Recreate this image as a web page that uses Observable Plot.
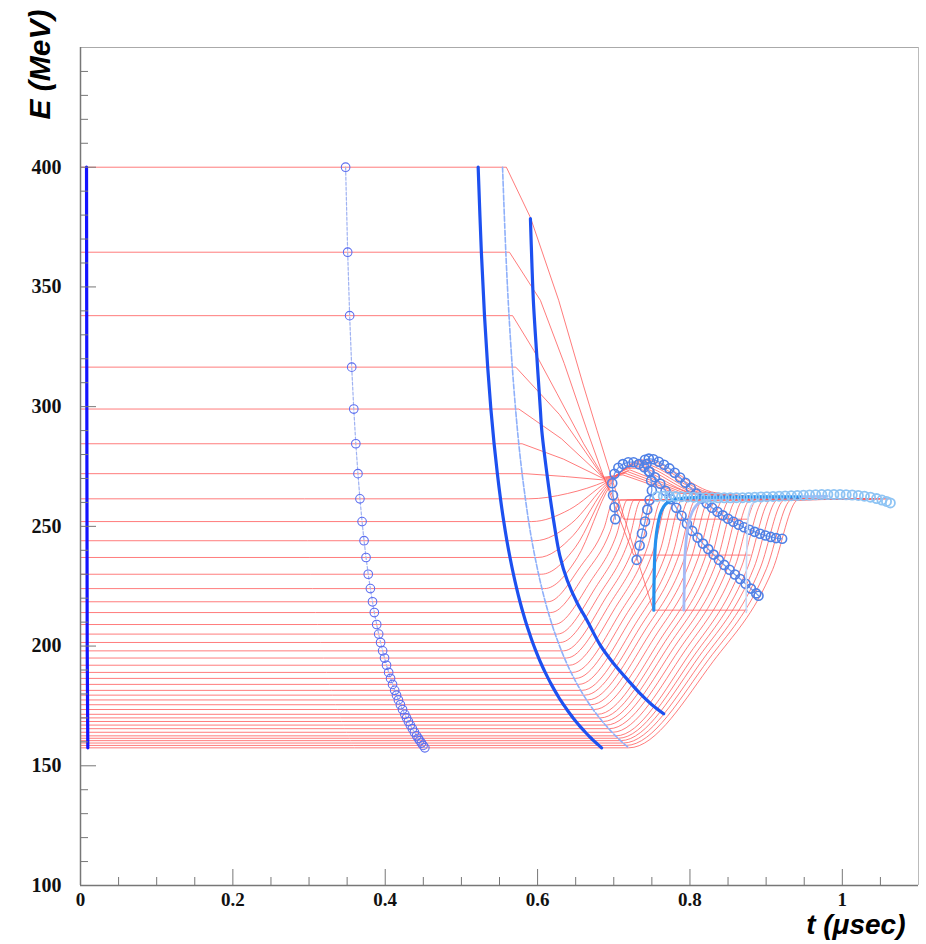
<!DOCTYPE html>
<html><head><meta charset="utf-8">
<script src="https://cdn.jsdelivr.net/npm/d3@7"></script>
<script src="https://cdn.jsdelivr.net/npm/@observablehq/plot@0.6"></script>
<style>body{margin:0;background:#fff;}</style>
</head><body><div id="chart"></div>
<script>
// ---- particle energies (MeV) at production ----
const energies = [400,364.5,338,316.5,299,284.5,272,261.5,252,244,237,230,224,218.5,214,209,205,201.5,198,195,192,189,186.5,184,181.5,179.5,177.5,175.5,173.5,171.5,170,168.5,167,165.5,164,162.5,161.5,160.5,159.5,158.5,157.5];
// time of each particle on the drift snapshot with circles (µs)
const tCircles = [0.3480,0.3507,0.3533,0.3560,0.3587,0.3614,0.3642,0.3668,0.3696,0.3722,0.3748,0.3777,0.3805,0.3833,0.3857,0.3888,0.3914,0.3939,0.3966,0.3991,0.4017,0.4045,0.4070,0.4096,0.4124,0.4148,0.4173,0.4199,0.4227,0.4257,0.4280,0.4304,0.4329,0.4356,0.4383,0.4412,0.4433,0.4453,0.4475,0.4497,0.4520];
// thick blue drift snapshot
const tThick1 = [0.5220,0.5262,0.5303,0.5345,0.5387,0.5429,0.5472,0.5513,0.5556,0.5597,0.5638,0.5683,0.5726,0.5769,0.5808,0.5855,0.5897,0.5935,0.5977,0.6015,0.6056,0.6100,0.6139,0.6180,0.6224,0.6261,0.6299,0.6341,0.6384,0.6430,0.6466,0.6503,0.6543,0.6584,0.6627,0.6672,0.6704,0.6736,0.6770,0.6805,0.6840];
// dashed light-blue snapshot (rotator entrance)
const tDashed = [0.5540,0.5583,0.5625,0.5668,0.5711,0.5753,0.5797,0.5840,0.5883,0.5925,0.5967,0.6013,0.6057,0.6101,0.6141,0.6189,0.6231,0.6271,0.6313,0.6352,0.6394,0.6439,0.6479,0.6521,0.6565,0.6603,0.6643,0.6685,0.6729,0.6776,0.6813,0.6851,0.6891,0.6934,0.6978,0.7024,0.7056,0.7089,0.7123,0.7159,0.7195];
// time where each red trajectory leaves its constant energy
const tTurn = [0.5590,0.5631,0.5672,0.5714,0.5755,0.5797,0.5839,0.5881,0.5923,0.5964,0.6004,0.6048,0.6091,0.6134,0.6172,0.6219,0.6260,0.6298,0.6340,0.6378,0.6418,0.6462,0.6500,0.6541,0.6584,0.6621,0.6659,0.6700,0.6743,0.6788,0.6824,0.6861,0.6900,0.6942,0.6984,0.7029,0.7060,0.7092,0.7125,0.7160,0.7195];
// waypoints [t, E] of each red trajectory after the turn
const rotatorPaths = [
 [[0.5906,379],[0.6277,344.4],[0.66,309],[0.6781,290],[0.6955,272],[0.752,215],[0.875,215]],
 [[0.6037,344.4],[0.635,318],[0.665,290],[0.687,270.5],[0.726,238],[0.879,238]],
 [[0.595,323.5],[0.6256,305.4],[0.6605,284.5],[0.687,270.5],[0.713,253],[0.875,253]],
 [[0.6287,296.7],[0.686,270.5],[0.712,271.5],[0.78,264],[0.88,262]],
 [[0.6313,286.6],[0.687,270.1],[0.715,272.2],[0.786,264],[0.885,262]],
 [[0.6339,278.1],[0.688,269.7],[0.718,272.9],[0.792,264],[0.89,262]],
 [[0.6365,270.8],[0.689,269.3],[0.721,273.6],[0.798,264],[0.895,262]],
 [[0.6391,263.7],[0.690,268.9],[0.724,274.3],[0.804,264],[0.90,262]],
 [[0.6417,257],[0.691,268.5],[0.727,275],[0.81,264],[0.905,262]],
 [[0.6442,251.2],[0.692,268.1],[0.730,275.7],[0.816,264],[0.91,262]],
 [[0.6467,246.2],[0.693,267.7],[0.733,276.4],[0.822,264],[0.915,262]],
 [[0.6494,241.2],[0.694,267.3],[0.736,277.1],[0.828,264],[0.92,262]],
 [[0.6521,236.9],[0.695,266.9],[0.739,277.8],[0.834,264],[0.925,262]],
 [[0.6567,233.4],[0.6870,249.1],[0.7000,261],[0.930,261.5]],
 [[0.6631,230.5],[0.6952,247.8],[0.7090,261],[0.9349,261.5]],
 [[0.6699,227.2],[0.7035,246.4],[0.7179,261],[0.9399,261.5]],
 [[0.6764,224.6],[0.7117,245.3],[0.7269,261],[0.9448,261.5]],
 [[0.6828,222.3],[0.7199,244.3],[0.7358,261],[0.9497,261.5]],
 [[0.6894,220.1],[0.7282,243.4],[0.7448,261],[0.9547,261.5]],
 [[0.6958,218.1],[0.7364,242.5],[0.7538,261],[0.9596,261.5]],
 [[0.7023,216.2],[0.7446,241.7],[0.7627,261],[0.9645,261.5]],
 [[0.7089,214.2],[0.7529,240.8],[0.7717,261],[0.9694,261.5]],
 [[0.7153,212.6],[0.7610,240.1],[0.7806,261],[0.9744,261.5]],
 [[0.7219,211.0],[0.7693,239.4],[0.7896,261],[0.9793,261.5]],
 [[0.7285,209.3],[0.7775,238.7],[0.7986,261],[0.9842,261.5]],
 [[0.7348,208.0],[0.7857,238.2],[0.8075,261],[0.9892,261.5]],
 [[0.7412,206.7],[0.7939,237.6],[0.8165,261],[0.9941,261.5]],
 [[0.7477,205.4],[0.8021,237.1],[0.8254,261],[0.9990,261.5]],
 [[0.7544,204.1],[0.8104,236.5],[0.8344,261],[1.0040,261.5]],
 [[0.7611,202.8],[0.8187,235.9],[0.8434,261],[1.0089,261.5]],
 [[0.7674,201.9],[0.8268,235.5],[0.8523,261],[1.0138,261.5]],
 [[0.7737,200.9],[0.8350,235.1],[0.8613,261],[1.0187,261.5]],
 [[0.7801,199.9],[0.8432,234.7],[0.8702,261],[1.0237,261.5]],
 [[0.7867,198.9],[0.8515,234.3],[0.8792,261],[1.0286,261.5]],
 [[0.7933,198.0],[0.8597,233.8],[0.8882,261],[1.0335,261.5]],
 [[0.8000,197.0],[0.8680,233.4],[0.8971,261],[1.0385,261.5]],
 [[0.8060,196.3],[0.8761,233.1],[0.9061,261],[1.0434,261.5]],
 [[0.8121,195.7],[0.8842,232.9],[0.9150,261],[1.0483,261.5]],
 [[0.8183,195.0],[0.8923,232.6],[0.9240,261],[1.0533,261.5]],
 [[0.8245,194.4],[0.9004,232.3],[0.9330,261],[1.0582,261.5]],
 [[0.8307,193.7],[0.9086,232.0],[0.9419,261],[1.0631,261.5]]
];
// production snapshot (vertical line near t = 0)
const startLineT = [0.0079,0.0083,0.0088,0.0096];
const startLineE = [400,300,200,157.5];
// second thick blue snapshot (inside the rotator)
const thick2 = [[0.5906,378.5],[0.5925,360],[0.5945,344],[0.599,321],[0.6037,298.5],[0.6055,290],[0.6146,266.4],[0.621,252.5],[0.629,238],[0.639,227.4],[0.652,218],[0.665,210.7],[0.682,200.5],[0.700,192.6],[0.718,186],[0.735,180],[0.750,175.5],[0.7655,171.7]];
// circle snapshots in the rotation region
const arcD = [[0.702,253],[0.701,258],[0.699,263],[0.698,268],[0.701,272],[0.706,274.5],[0.712,276],[0.719,276.8],[0.726,276.8],[0.733,276],[0.740,274.7],[0.747,272.8],[0.754,270.5],[0.761,267.8],[0.768,264.8],[0.775,261.3],[0.782,257.8],[0.789,254.4],[0.796,251.1],[0.803,248.1],[0.810,245.3],[0.817,242.8],[0.824,240.5],[0.831,238.2],[0.838,236],[0.845,233.9],[0.852,231.9],[0.859,229.9],[0.866,228],[0.873,226],[0.880,224],[0.887,222],[0.890,221]];
const arcC = [[0.730,236],[0.734,242],[0.737,247],[0.741,252],[0.744,257],[0.747,261],[0.750,265],[0.749,269],[0.746,273],[0.743,276],[0.741,277.8],[0.746,278.3],[0.752,278],[0.759,277],[0.766,275.7],[0.773,274.2],[0.780,272.4],[0.787,270.4],[0.794,268.2],[0.801,266],[0.808,263.7],[0.815,261.5],[0.822,259.6],[0.829,257.8],[0.836,256.1],[0.843,254.6],[0.850,253.2],[0.857,251.9],[0.864,250.7],[0.871,249.6],[0.878,248.6],[0.885,247.7],[0.892,246.9],[0.899,246.2],[0.906,245.6],[0.913,245.1],[0.921,244.8]];
const cyanCurve = [[0.7525,215],[0.7528,225],[0.7535,235],[0.755,244],[0.758,251],[0.762,256],[0.768,259.3],[0.777,261],[0.79,261.7],[0.81,262],[0.85,262.2],[0.90,262.3],[0.945,262.2]];
const lavenderCurve = [[0.792,215],[0.7925,225],[0.793,235],[0.795,244],[0.798,251],[0.803,256],[0.81,259.3],[0.82,261],[0.84,261.8],[0.88,262.2],[0.93,262.4],[0.98,262.5]];
const faintLine = [[0.874,214],[0.874,230],[0.875,245],[0.877,255],[0.882,259.5],[0.89,261]];
const flatT = [0.757,0.765,0.773,0.781,0.789,0.797,0.805,0.813,0.821,0.829,0.837,0.845,0.853,0.861,0.869,0.877,0.885,0.893,0.901,0.909,0.917,0.925,0.933,0.941,0.949,0.957,0.965,0.973,0.981,0.989,0.997,1.005,1.013,1.021,1.029,1.037,1.045,1.052,1.058,1.063];
const flatE = [262.5,262.6,262.6,262.5,262.4,262.3,262.2,262.1,262,262,261.9,261.9,261.9,262,262,262.1,262.2,262.3,262.4,262.5,262.6,262.7,262.8,262.9,263,263.1,263.2,263.3,263.3,263.3,263.3,263.2,263.1,262.9,262.6,262.2,261.6,261,260.4,259.8];
// axis ticks
const xMajor = [0,0.2,0.4,0.6,0.8,1];
const xMinor = [0.05,0.1,0.15,0.25,0.3,0.35,0.45,0.5,0.55,0.65,0.7,0.75,0.85,0.9,0.95,1.05];
const yMajor = [100,150,200,250,300,350,400];
const yMinor = [110,120,130,140,160,170,180,190,210,220,230,240,260,270,280,290,310,320,330,340,360,370,380,390,410,420,430,440];

// ---- build tables ----
const redRows = [];
energies.forEach((E, i) => {
  const pts = [[0, E], [tTurn[i], E], ...rotatorPaths[i]];
  pts.forEach(([t, e]) => redRows.push({id: i, t, E: e, upper: i <= 6}));
});
const idx = energies.map((_, i) => i);
const circRows = idx.map(i => ({t: tCircles[i], E: energies[i]}));
const thick1Rows = idx.map(i => ({t: tThick1[i], E: energies[i]}));
const dashRows = idx.map(i => ({t: tDashed[i], E: energies[i]}));
const startRows = startLineT.map((t, i) => ({t, E: startLineE[i]}));
const pair = a => a.map(([t, E]) => ({t, E}));
const flatRows = flatT.map((t, i) => ({t, E: flatE[i]}));

const plotW = 838, plotH = 838;
const serif = "'Liberation Serif','Times New Roman',serif";
const sans = "'Liberation Sans',Arial,sans-serif";

const chart = Plot.plot({
  width: 926, height: 944,
  marginLeft: 80, marginRight: 8, marginTop: 47, marginBottom: 59,
  x: {domain: [0, 1.1]},
  y: {domain: [100, 450]},
  style: {background: "#fff", fontFamily: serif, fontSize: "20px", color: "#111"},
  marks: [
    // red trajectories
    Plot.line(redRows.filter(d => d.upper), {x: "t", y: "E", z: "id", stroke: "#ff5a5a", strokeWidth: 0.8, curve: "linear"}),
    Plot.line(redRows.filter(d => !d.upper), {x: "t", y: "E", z: "id", stroke: "#ff5a5a", strokeWidth: 0.8, curve: "monotone-x"}),
    // blue snapshots
    Plot.line(startRows, {x: "t", y: "E", stroke: "#1414ff", strokeWidth: 3.2}),
    Plot.line(circRows, {x: "t", y: "E", stroke: "#9fb2f2", strokeWidth: 1.2, strokeDasharray: "3,2"}),
    Plot.dot(circRows, {x: "t", y: "E", r: 4.3, stroke: "#5d6ff0", strokeWidth: 1.1, fill: "none"}),
    Plot.line(thick1Rows, {x: "t", y: "E", stroke: "#1d50f0", strokeWidth: 3.2, curve: "catmull-rom"}),
    Plot.line(dashRows, {x: "t", y: "E", stroke: "#8fb0fa", strokeWidth: 1.6, strokeDasharray: "5,2", curve: "catmull-rom"}),
    Plot.line(pair(thick2), {x: "t", y: "E", stroke: "#1d50f0", strokeWidth: 3.2, curve: "catmull-rom"}),
    Plot.line(pair(arcD), {x: "t", y: "E", stroke: "#6f9af0", strokeWidth: 1.3}),
    Plot.dot(pair(arcD), {x: "t", y: "E", r: 4.5, stroke: "#4f80e6", strokeWidth: 1.6, fill: "none"}),
    Plot.line(pair(arcC), {x: "t", y: "E", stroke: "#6f9af0", strokeWidth: 1.3}),
    Plot.dot(pair(arcC), {x: "t", y: "E", r: 4.5, stroke: "#4f80e6", strokeWidth: 1.6, fill: "none"}),
    Plot.line(pair(faintLine), {x: "t", y: "E", stroke: "#c5daf8", strokeWidth: 1.6, curve: "catmull-rom"}),
    Plot.line(pair(lavenderCurve), {x: "t", y: "E", stroke: "#a5bbf7", strokeWidth: 2.8, curve: "catmull-rom"}),
    Plot.line(pair(cyanCurve), {x: "t", y: "E", stroke: "#2591ee", strokeWidth: 3.2, curve: "catmull-rom"}),
    Plot.dot(flatRows, {x: "t", y: "E", r: 4.6, stroke: "#8ec4f4", strokeWidth: 1.8, fill: "none"}),
    // frame
    Plot.ruleY([450], {stroke: "#aaa", strokeWidth: 1}),
    Plot.ruleX([1.1], {stroke: "#bbb", strokeWidth: 1}),
    Plot.ruleX([0], {stroke: "#777", strokeWidth: 1.5}),
    Plot.ruleY([100], {stroke: "#777", strokeWidth: 1.5}),
    // inward ticks
    Plot.tickX(xMajor, {x: d => d, insetTop: plotH - 16, stroke: "#777"}),
    Plot.tickX(xMinor, {x: d => d, insetTop: plotH - 8, stroke: "#777"}),
    Plot.tickY(yMajor, {y: d => d, insetRight: plotW - 16, stroke: "#777"}),
    Plot.tickY(yMinor, {y: d => d, insetRight: plotW - 8, stroke: "#777"}),
    // tick labels
    Plot.axisX({ticks: xMajor, tickSize: 0, tickPadding: 7, label: null,
      tickFormat: d => (d === 0 ? "0" : d === 1 ? "1" : d.toFixed(1)),
      fontSize: 19, fontWeight: "bold", fontFamily: serif, fill: "#111"}),
    Plot.axisY({ticks: yMajor, tickSize: 0, tickPadding: 19, label: null,
      fontSize: 20, fontWeight: "bold", fontFamily: serif, fill: "#111"}),
    // axis titles
    Plot.text(["E (MeV)"], {text: d => d, frameAnchor: "top-left", dx: -40, dy: 17, rotate: -90,
      textAnchor: "middle", lineAnchor: "middle", fontSize: 30, fontWeight: "bold", fontStyle: "italic", fontFamily: sans, fill: "#000"}),
    Plot.text(["t (\u03bcsec)"], {text: d => d, frameAnchor: "bottom-right", dx: -13, dy: 40,
      textAnchor: "end", lineAnchor: "middle", fontSize: 28, fontWeight: "bold", fontStyle: "italic", fontFamily: sans, fill: "#000"})
  ]
});
document.getElementById("chart").appendChild(chart);
</script>
</body></html>
